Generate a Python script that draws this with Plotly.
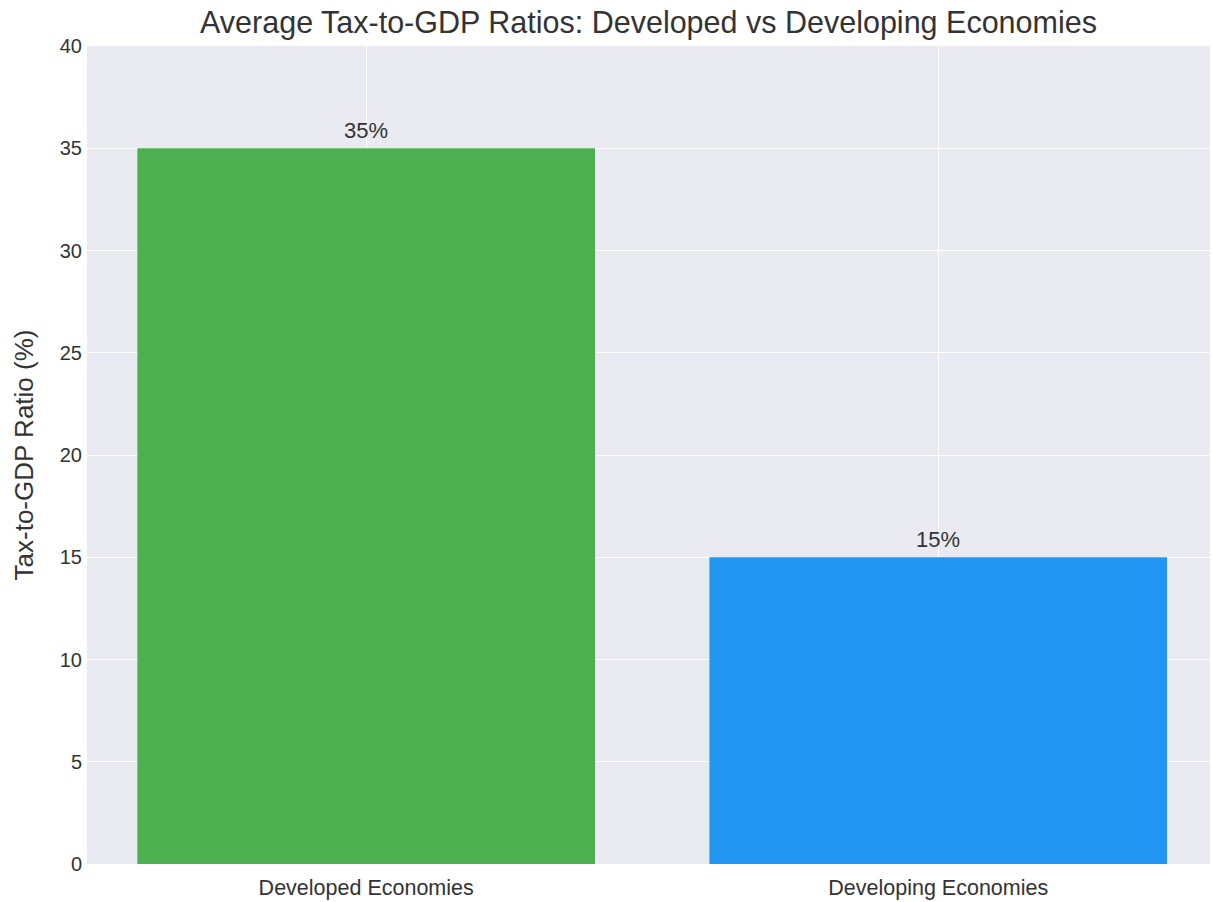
import plotly.graph_objects as go

categories = ["Developed Economies", "Developing Economies"]
values = [35, 15]
colors = ["#4CAF50", "#2196F3"]
labels = ["35%", "15%"]
yticks = [0, 5, 10, 15, 20, 25, 30, 35, 40]

FONT = "Liberation Sans, Arial, sans-serif"
TXT = "#333333"

fig = go.Figure()
fig.add_trace(go.Bar(
    x=[0, 1], y=values, marker=dict(color=colors, line=dict(width=0)),
    width=0.8, showlegend=False, hoverinfo="skip",
))
for i, (v, t) in enumerate(zip(values, labels)):
    fig.add_annotation(x=i, y=v, text=t, showarrow=False, yanchor="bottom",
                       yshift=3, font=dict(size=22, color=TXT, family=FONT))

W, H = 1213, 902
fig.update_layout(
    width=W, height=H,
    margin=dict(l=87, r=3, t=46, b=38, autoexpand=False),
    paper_bgcolor="white", plot_bgcolor="#EAEAF2",
    title=dict(text="Average Tax-to-GDP Ratios: Developed vs Developing Economies",
               x=0.5, xref="paper", xanchor="center", y=1 - 22 / H, yanchor="middle",
               font=dict(size=30.5, color=TXT, family=FONT)),
    font=dict(family=FONT, color=TXT),
)
fig.update_xaxes(range=[-0.488, 1.475], tickvals=[0, 1], ticktext=categories,
                 showgrid=True, gridcolor="white", gridwidth=1.3, zeroline=False,
                 tickfont=dict(size=21.5, color=TXT), ticks="", showline=False,
                 ticklabelstandoff=8)
fig.update_yaxes(range=[0, 40], tickvals=yticks, showgrid=True, gridcolor="white",
                 gridwidth=1.3, zeroline=False, ticks="", showline=False,
                 tickfont=dict(size=20, color=TXT), ticklabelstandoff=4,
                 title=dict(text="Tax-to-GDP Ratio (%)", font=dict(size=26, color=TXT), standoff=18))

fig.write_html("out.html", config={"displayModeBar": False},
               post_script="document.body.style.margin='0';document.body.style.overflow='hidden';")
